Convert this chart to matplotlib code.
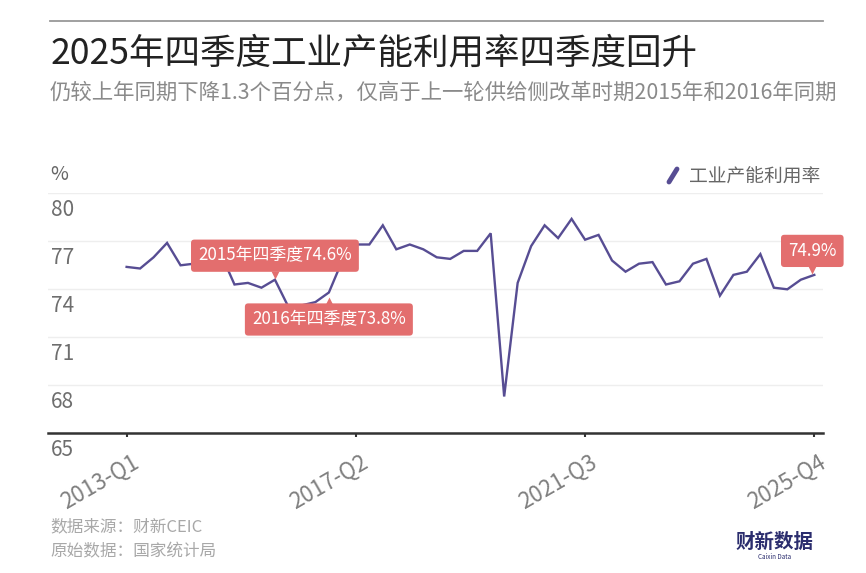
import matplotlib
matplotlib.use("Agg")
import matplotlib.pyplot as plt
from matplotlib.lines import Line2D
from matplotlib.transforms import ScaledTranslation, offset_copy

plt.rcParams['font.family'] = ['Noto Sans CJK SC', 'DejaVu Sans']

# ---------------- data ----------------
quarters = [f"{y}-Q{q}" for y in range(2013, 2026) for q in range(1, 5)]
utilization = [75.4, 75.3, 76.0, 76.9, 75.5, 75.6, 75.3, 76.2,
               74.3, 74.4, 74.1, 74.6, 72.9, 73.0, 73.2, 73.8,
               75.8, 76.8, 76.8, 78.0, 76.5, 76.8, 76.5, 76.0,
               75.9, 76.4, 76.4, 77.5, 67.3, 74.4, 76.7, 78.0,
               77.2, 78.4, 77.1, 77.4, 75.8, 75.1, 75.6, 75.7,
               74.3, 74.5, 75.6, 75.9, 73.6, 74.9, 75.1, 76.2,
               74.1, 74.0, 74.6, 74.9]
xtick_labels = ["2013-Q1", "2017-Q2", "2021-Q3", "2025-Q4"]
yticks = [65, 68, 71, 74, 77, 80]
annotations = [("2015-Q4", "2015年四季度74.6%", "up"),
               ("2016-Q4", "2016年四季度73.8%", "down"),
               ("2025-Q4", "74.9%", "up")]
series_name = "工业产能利用率"
title = "2025年四季度工业产能利用率四季度回升"
subtitle = "仍较上年同期下降1.3个百分点，仅高于上一轮供给侧改革时期2015年和2016年同期"
source1 = "数据来源：财新CEIC"
source2 = "原始数据：国家统计局"

# ---------------- figure ----------------
W, H = 866, 573
fig = plt.figure(figsize=(W / 100, H / 100), dpi=100)
fig.patch.set_facecolor("white")

def fx(px):
    return px / W

def fy(py):
    return 1 - py / H

ax_left, ax_right, ax_top, ax_bottom = 48, 823, 193.3, 433.3
ax = fig.add_axes([fx(ax_left), fy(ax_bottom), fx(ax_right - ax_left), (ax_bottom - ax_top) / H])

line_color = "#574d93"
box_color = "#e36e6e"
xs = list(range(len(quarters)))
ax.plot(xs, utilization, color=line_color, lw=1.7, solid_joinstyle="miter", zorder=3)

ax.set_ylim(65, 80)
ax.set_xlim(-5.83, 51.645)
for s in ["top", "right", "left"]:
    ax.spines[s].set_visible(False)
ax.spines["bottom"].set_color("#333333")
ax.spines["bottom"].set_linewidth(1.8)
ax.set_yticks(yticks)
ax.tick_params(axis="y", length=0, labelleft=False)
ax.yaxis.grid(True, color="#eeeeee", lw=1)
ax.set_axisbelow(True)

tick_pos = [quarters.index(t) for t in xtick_labels]
ax.set_xticks(tick_pos)
ax.set_xticklabels(xtick_labels, rotation=30, ha="right", va="top",
                   rotation_mode="anchor", fontsize=16, color="#808080")
ax.tick_params(axis="x", length=3, width=1.5, color="#333333", pad=9)
for lab in ax.get_xticklabels():
    lab.set_transform(lab.get_transform() + ScaledTranslation(3 / 72, 0, fig.dpi_scale_trans))

# y labels below gridlines
for v in yticks:
    ax.annotate(str(v), xy=(0, v), xycoords=("axes fraction", "data"),
                xytext=(3, -17), textcoords="offset pixels",
                ha="left", va="center", fontsize=15, color="#6e6e6e",
                annotation_clip=False)

# annotations
for q, txt, side in annotations:
    i = quarters.index(q)
    v = utilization[i]
    dx = -2 if i == len(quarters) - 1 else 0
    dy = 24 if side == "up" else -27
    ax.annotate(txt, xy=(i, v), xytext=(dx, dy), textcoords="offset pixels",
                ha="center", va="center", fontsize=12.2, color="white",
                bbox=dict(boxstyle="round,pad=0.42,rounding_size=0.2", fc=box_color, ec="none"),
                zorder=5)
    mk = "v" if side == "up" else "^"
    mdy = 5 if side == "up" else -8
    tr = offset_copy(ax.transData, fig=fig, x=dx, y=mdy, units="dots")
    ax.plot([i], [v], marker=mk, ms=6, color=box_color, mec="none", transform=tr, zorder=5)

# ---------------- texts ----------------
fig.add_artist(Line2D([fx(50), fx(823)], [fy(20.7), fy(20.7)], color="#999999", lw=1.3))
fig.text(fx(51), fy(54), title, fontsize=25.6, color="#222222", ha="left", va="center")
fig.text(fx(50), fy(93), subtitle, fontsize=15.4, color="#8a8a8a", ha="left", va="center")
fig.text(fx(50), fy(175), "%", fontsize=14, color="#666666", ha="left", va="center")

# legend
fig.add_artist(Line2D([fx(669), fx(677)], [fy(182), fy(169)], color=line_color, lw=3.5,
                      solid_capstyle="round"))
fig.text(fx(689), fy(177), series_name, fontsize=13.5, color="#666666", ha="left", va="center")

# footer
fig.text(fx(50), fy(527), source1, fontsize=12, color="#a8a8a8", ha="left", va="center")
fig.text(fx(50), fy(552), source2, fontsize=12, color="#a8a8a8", ha="left", va="center")
fig.text(fx(775), fy(542), "财新数据", fontsize=14, color="#2b2d6e", fontweight="bold",
         ha="center", va="center")
fig.text(fx(775), fy(557), "Caixin Data", fontsize=4.5, color="#2b2d6e", ha="center", va="center")

fig.savefig("out.png", dpi=100, facecolor="white")
